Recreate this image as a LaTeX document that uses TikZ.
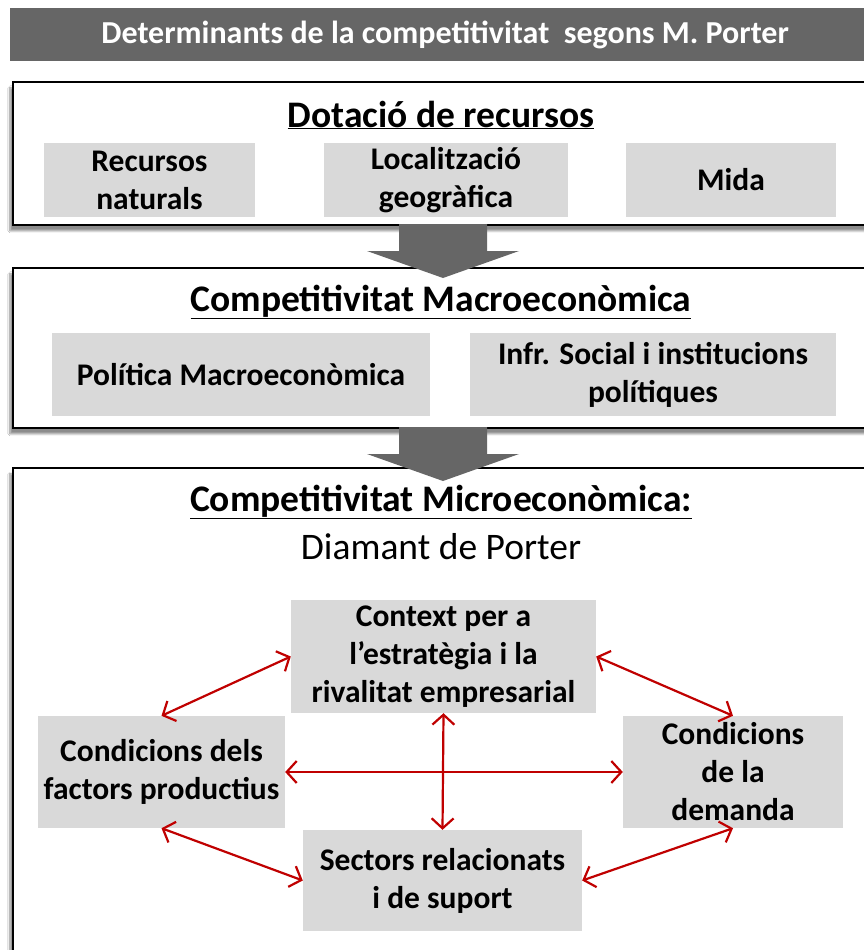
\documentclass[tikz,border=0pt]{standalone}
\usepackage{fontspec}
\setmainfont{Carlito}
\usetikzlibrary{arrows.meta,shadows.blur}
\definecolor{bargrey}{HTML}{666666}
\definecolor{boxgrey}{HTML}{D9D9D9}
\definecolor{linkred}{HTML}{C00000}
\begin{document}
\begin{tikzpicture}[x=1pt, y=-1pt,
  frame/.style={draw=black, line width=1.8pt, fill=white, inner sep=0pt, anchor=north west, minimum width=870pt,
    blur shadow={shadow xshift=-3pt, shadow yshift=-6pt, shadow blur steps=10, shadow opacity=45}},
  factor/.style={fill=boxgrey, align=center, font=\fontsize{31.5}{38}\selectfont\bfseries, inner sep=0pt},
  heading/.style={font=\fontsize{37.5}{44}\selectfont\bfseries},
  link/.style={draw=linkred, line width=2.2pt, {Straight Barb[length=10pt,width=22pt]}-{Straight Barb[length=10pt,width=22pt]}},
  bigarrow/.style={fill=bargrey}]
\clip (0,0) rectangle (864,950);
\fill[white] (0,0) rectangle (864,950);

% === Title bar ===
\node[fill=bargrey, minimum width=870pt, minimum height=53pt, inner sep=0pt, anchor=north west,
  text=white, font=\fontsize{32}{38}\selectfont\bfseries]
  (Title) at (10,8) {Determinants de la competitivitat\ \ segons M. Porter};

% === Frames ===
\node[frame, minimum height=143pt] (Dotacio) at (12,81) {};
\node[frame, minimum height=160pt] (Macro) at (12,267) {};
\node[frame, minimum height=500pt] (Micro) at (12,467) {};

% === Dotació de recursos ===
\node[heading] (DotacioT) at (441,115) {\underline{Dotació de recursos}};
\node[factor, minimum width=211pt, minimum height=74pt] (Natural) at (149.5,180) {Recursos\\naturals};
\node[factor, minimum width=244pt, minimum height=74pt] (Geo) at (446,180) {Localització\\geogràfica};
\node[factor, minimum width=210pt, minimum height=74pt] (Mida) at (731,180) {Mida};

% === Competitivitat Macroeconòmica ===
\node[heading] (MacroT) at (441,302) {\underline{Competitivitat Macroeconòmica}};
\node[factor, minimum width=378pt, minimum height=83pt] (Politica) at (241,374.5) {Política Macroeconòmica};
\node[factor, minimum width=366pt, minimum height=83pt] (Infra) at (653,374.5) {Infr. Social i institucions\\polítiques};

% === Competitivitat Microeconòmica ===
\node[heading] (MicroT) at (441,502) {\underline{Competitivitat Microeconòmica:}};
\node[font=\fontsize{37.5}{44}\selectfont] (Diamant) at (441,547) {Diamant de Porter};

\node[factor, minimum width=305pt, minimum height=113pt] (Context) at (443.5,656.5) {Context per a\\l’estratègia i la\\rivalitat empresarial};
\node[factor, minimum width=247pt, minimum height=112pt] (Factors) at (161.5,772) {Condicions dels\\factors productius};
\node[factor, minimum width=220pt, minimum height=112pt] (Demanda) at (733,772) {Condicions\\de la\\demanda};
\node[factor, minimum width=279pt, minimum height=101pt] (Sectors) at (442.5,880.5) {Sectors relacionats\\i de suport};

% === Block arrows ===
\foreach \top in {224,427}{
  \fill[bigarrow] (399,\top) -- (487,\top) -- (487,\top+27) -- (519,\top+27) -- (443,\top+54)
    -- (367,\top+27) -- (399,\top+27) -- cycle;
}

% === Diamond links ===
\draw[link] (Factors.north) -- (Context.west);
\draw[link] (Context.east) -- (Demanda.north);
\draw[link] (Factors.east) -- (Demanda.west);
\draw[link] (Context.south) -- (Sectors.north);
\draw[link] (Factors.south) -- (Sectors.west);
\draw[link] (Sectors.east) -- (Demanda.south);
\end{tikzpicture}
\end{document}
